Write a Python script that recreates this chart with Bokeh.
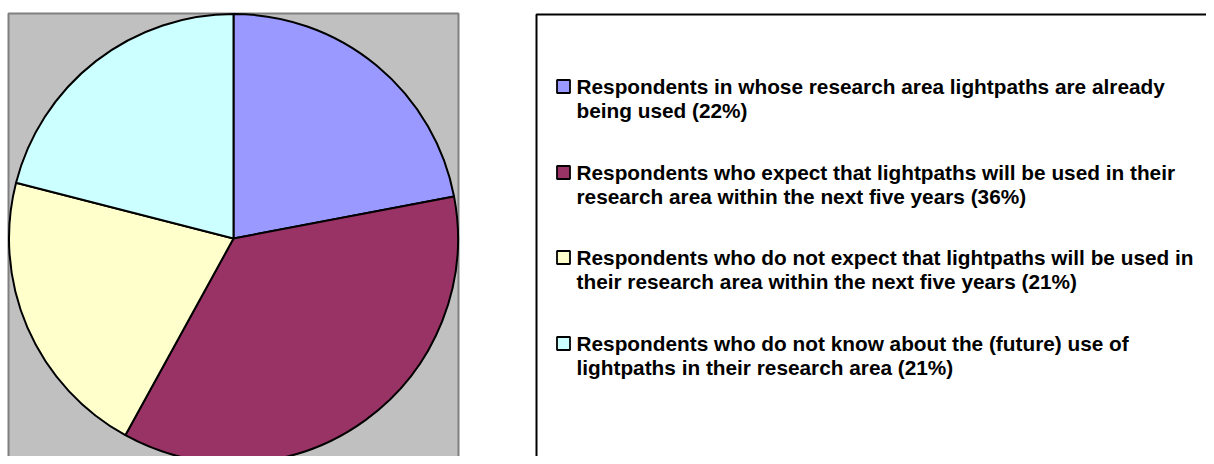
from math import pi
import numpy as np
from bokeh.plotting import figure
from bokeh.models import Range1d, ColumnDataSource
from bokeh.core.properties import value
from bokeh.embed import file_html
from bokeh.resources import INLINE

# ---- data ----
labels = [
    ["Respondents in whose research area lightpaths are already", "being used (22%)"],
    ["Respondents who expect that lightpaths will be used in their", "research area within the next five years (36%)"],
    ["Respondents who do not expect that lightpaths will be used in", "their research area within the next five years (21%)"],
    ["Respondents who do not know about the (future) use of", "lightpaths in their research area (21%)"],
]
shares = [22, 36, 21, 21]
colors = ["#9999FF", "#993366", "#FFFFCC", "#CCFFFF"]

W, H = 1206, 456
p = figure(width=W, height=H, output_backend="svg", toolbar_location=None,
           x_range=Range1d(0, W), y_range=Range1d(0, H), min_border=0)
p.axis.visible = False
p.grid.visible = False
p.outline_line_color = None
p.background_fill_color = "white"
p.border_fill_color = "white"

def py(page_y):
    return H - page_y

def px(page_x):
    return page_x

# plot area box
p.quad(left=px(8), right=px(458), bottom=py(462), top=py(13),
       fill_color="#C0C0C0", line_color="#808080", line_width=2)

# pie
vals = np.array(shares, dtype=float)
frac = vals / vals.sum()
cum = np.concatenate([[0], np.cumsum(frac)])
start = pi / 2 - cum[:-1] * 2 * pi
end = pi / 2 - cum[1:] * 2 * pi
src = ColumnDataSource(dict(start=start, end=end, color=colors))
p.wedge(x=px(233), y=py(238), radius=224.5, start_angle="start", end_angle="end",
        direction="clock", fill_color="color", line_color="black", line_width=2,
        source=src)

# legend box
p.quad(left=px(536), right=px(1260), bottom=py(490), top=py(14),
       fill_color="white", line_color="black", line_width=2)

first_lines = [86, 172, 257, 343]
for i, (lab, c) in enumerate(zip(labels, colors)):
    y0 = first_lines[i]
    p.rect(x=px(563), y=py(y0), width=13, height=13, fill_color=c,
           line_color="black", line_width=1.8)
    for j, line in enumerate(lab):
        p.text(x=[px(576)], y=[py(y0 + 24 * j)], text=[line],
               text_font=value("Liberation Sans"), text_font_style="bold",
               text_font_size="20.8px", text_baseline="middle", text_align="left",
               text_color="black")

open("out.html", "w").write(file_html(p, INLINE))
